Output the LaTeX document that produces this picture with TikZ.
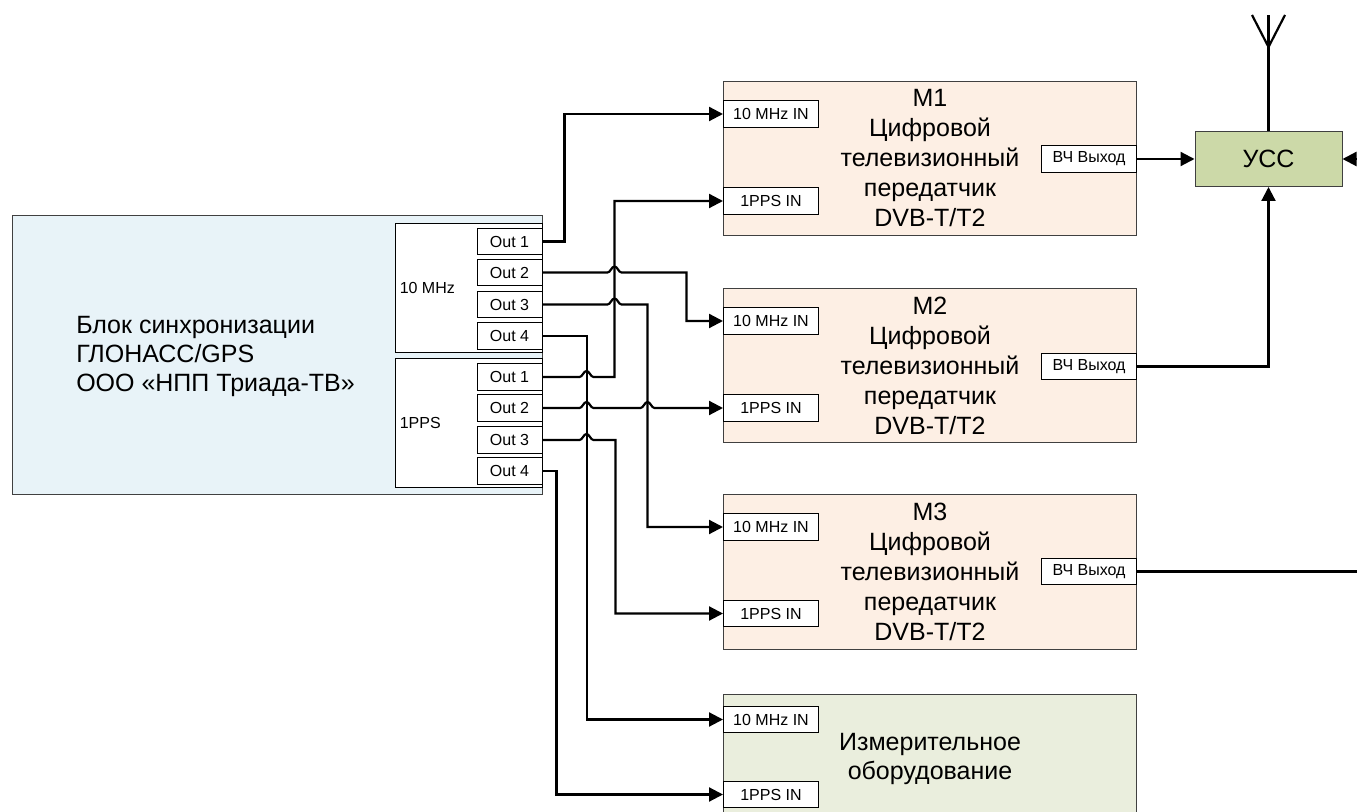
\documentclass[tikz,border=0pt]{standalone}
\usepackage{fontspec}
\setmainfont{Liberation Sans}
\usepackage{xcolor}
\usetikzlibrary{arrows.meta}
\definecolor{syncblue}{RGB}{232,243,248}
\definecolor{unitpeach}{RGB}{253,239,228}
\definecolor{usscolor}{RGB}{204,217,168}
\definecolor{meascolor}{RGB}{234,238,221}
\definecolor{edgegrey}{RGB}{64,64,64}
\newcommand{\hop}{.. controls +(3,0) and +(-3,0) .. ++(7,-6) .. controls +(3,0) and +(-3,0) .. ++(7,6)}
\tikzset{
  block/.style={draw=edgegrey,line width=0.75pt,inner sep=0pt},
  unitbox/.style={block,fill=unitpeach,minimum width=309.75pt,minimum height=115.5pt,align=center,
    font=\fontsize{18.75}{22.5}\selectfont},
  portbox/.style={draw=black,line width=0.75pt,fill=white,inner sep=0pt,minimum width=71.25pt,
    minimum height=20pt,font=\fontsize{12}{14}\selectfont},
  outbox/.style={portbox,minimum width=48.75pt},
  groupbox/.style={portbox,minimum width=110.25pt,minimum height=96.75pt},
  bigtext/.style={inner sep=0pt,align=center,font=\fontsize{18.75}{21.75}\selectfont},
  smalltext/.style={inner sep=0pt,anchor=west,font=\fontsize{12}{14}\selectfont},
  wire/.style={line width=1.65pt,line join=miter},
  feed/.style={wire,-{Triangle[length=10.5pt,width=10.5pt]}}
}
\begin{document}
\begin{tikzpicture}[x=0.75pt,y=-0.75pt]
  \useasboundingbox (0,0) rectangle (1357,812);
  \clip (0,0) rectangle (1357,812);
  % Sync block
  \node[block,fill=syncblue,minimum width=397.5pt,minimum height=209.25pt] (sync) at (277,355) {};
  \node[bigtext,align=left,anchor=west] (synctext) at (76,356.5)
    {Блок синхронизации\\ГЛОНАСС/GPS\\ООО «НПП Триада-ТВ»};
  \node[groupbox] (mhz) at (468.5,288.5) {};
  \node[groupbox] (pps) at (468.5,423.5) {};
  \node[smalltext] (mhztext) at (399.5,288) {10 MHz};
  \node[smalltext] (ppstext) at (399.5,423) {1PPS};
  % Outputs
  \node[outbox] (a1) at (509.5,241.5) {Out 1};
  \node[outbox] (a2) at (509.5,272.5) {Out 2};
  \node[outbox] (a3) at (509.5,304.5) {Out 3};
  \node[outbox] (a4) at (509.5,336) {Out 4};
  \node[outbox] (b1) at (509.5,377) {Out 1};
  \node[outbox] (b2) at (509.5,408) {Out 2};
  \node[outbox] (b3) at (509.5,440) {Out 3};
  \node[outbox] (b4) at (509.5,471) {Out 4};
  % Transmitters
  \node[unitbox] (m1) at (930,158.5) {М1\\Цифровой\\телевизионный\\передатчик\\DVB-T/T2};
  \node[unitbox] (m2) at (930,366) {М2\\Цифровой\\телевизионный\\передатчик\\DVB-T/T2};
  \node[unitbox] (m3) at (930,572) {М3\\Цифровой\\телевизионный\\передатчик\\DVB-T/T2};
  % Measuring equipment
  \node[block,fill=meascolor,minimum width=309.75pt,minimum height=108pt] (meas) at (930,766.5) {};
  \node[bigtext] (meastext) at (930,759) {Измерительное\\оборудование};
  % Ports
  \node[portbox] (m1a) at (771,114) {10 MHz IN};
  \node[portbox] (m1b) at (771,201) {1PPS IN};
  \node[portbox] (m1r) at (1089,159) {ВЧ Выход};
  \node[portbox] (m2a) at (771,321) {10 MHz IN};
  \node[portbox] (m2b) at (771,408) {1PPS IN};
  \node[portbox] (m2r) at (1089,366.5) {ВЧ Выход};
  \node[portbox] (m3a) at (771,527) {10 MHz IN};
  \node[portbox] (m3b) at (771,613.5) {1PPS IN};
  \node[portbox] (m3r) at (1089,571.5) {ВЧ Выход};
  \node[portbox] (ma) at (771,719.5) {10 MHz IN};
  \node[portbox] (mb) at (771,794.5) {1PPS IN};
  % Combiner and antenna
  \node[block,fill=usscolor,minimum width=110.25pt,minimum height=41.25pt,
    font=\fontsize{18.75}{22}\selectfont] (uss) at (1268.5,159) {УСС};
  \coordinate (mast) at (1268.5,47);
  \coordinate (mastend) at (1268.5,15);
  \coordinate (armleft) at (1252,15);
  \coordinate (armright) at (1285,15);
  \coordinate (ussfeed) at (1370,159);
  \coordinate (m3end) at (1357,571.5);
  \draw[wire] (uss.north) -- (mastend);
  \draw[wire] (armleft) -- (mast) -- (armright);
  % 10 MHz lines
  \draw[feed] (a1.east) -- ++(22,0) |- (m1a.west);
  \draw[feed] (a2.east) -- ++(65,0) \hop -- ++(65,0) |- (m2a.west);
  \draw[feed] (a3.east) -- ++(65,0) \hop -- ++(26,0) |- (m3a.west);
  \draw[feed] (a4.east) -- ++(44.5,0) |- (ma.west);
  % 1PPS lines
  \draw[feed] (b1.east) -- ++(37,0) \hop -- ++(21,0) |- (m1b.west);
  \draw[feed] (b2.east) -- ++(37,0) \hop -- ++(47,0) \hop -- (m2b.west);
  \draw[feed] (b3.east) -- ++(37,0) \hop -- ++(22,0) |- (m3b.west);
  \draw[feed] (b4.east) -- ++(14,0) |- (mb.west);
  % RF outputs
  \draw[feed] (m1r.east) -- (uss.west);
  \draw[feed] (m2r.east) -| (uss.south);
  \draw[wire] (m3r.east) -- (m3end);
  \draw[feed] (ussfeed) -- (uss.east);
\end{tikzpicture}
\end{document}
